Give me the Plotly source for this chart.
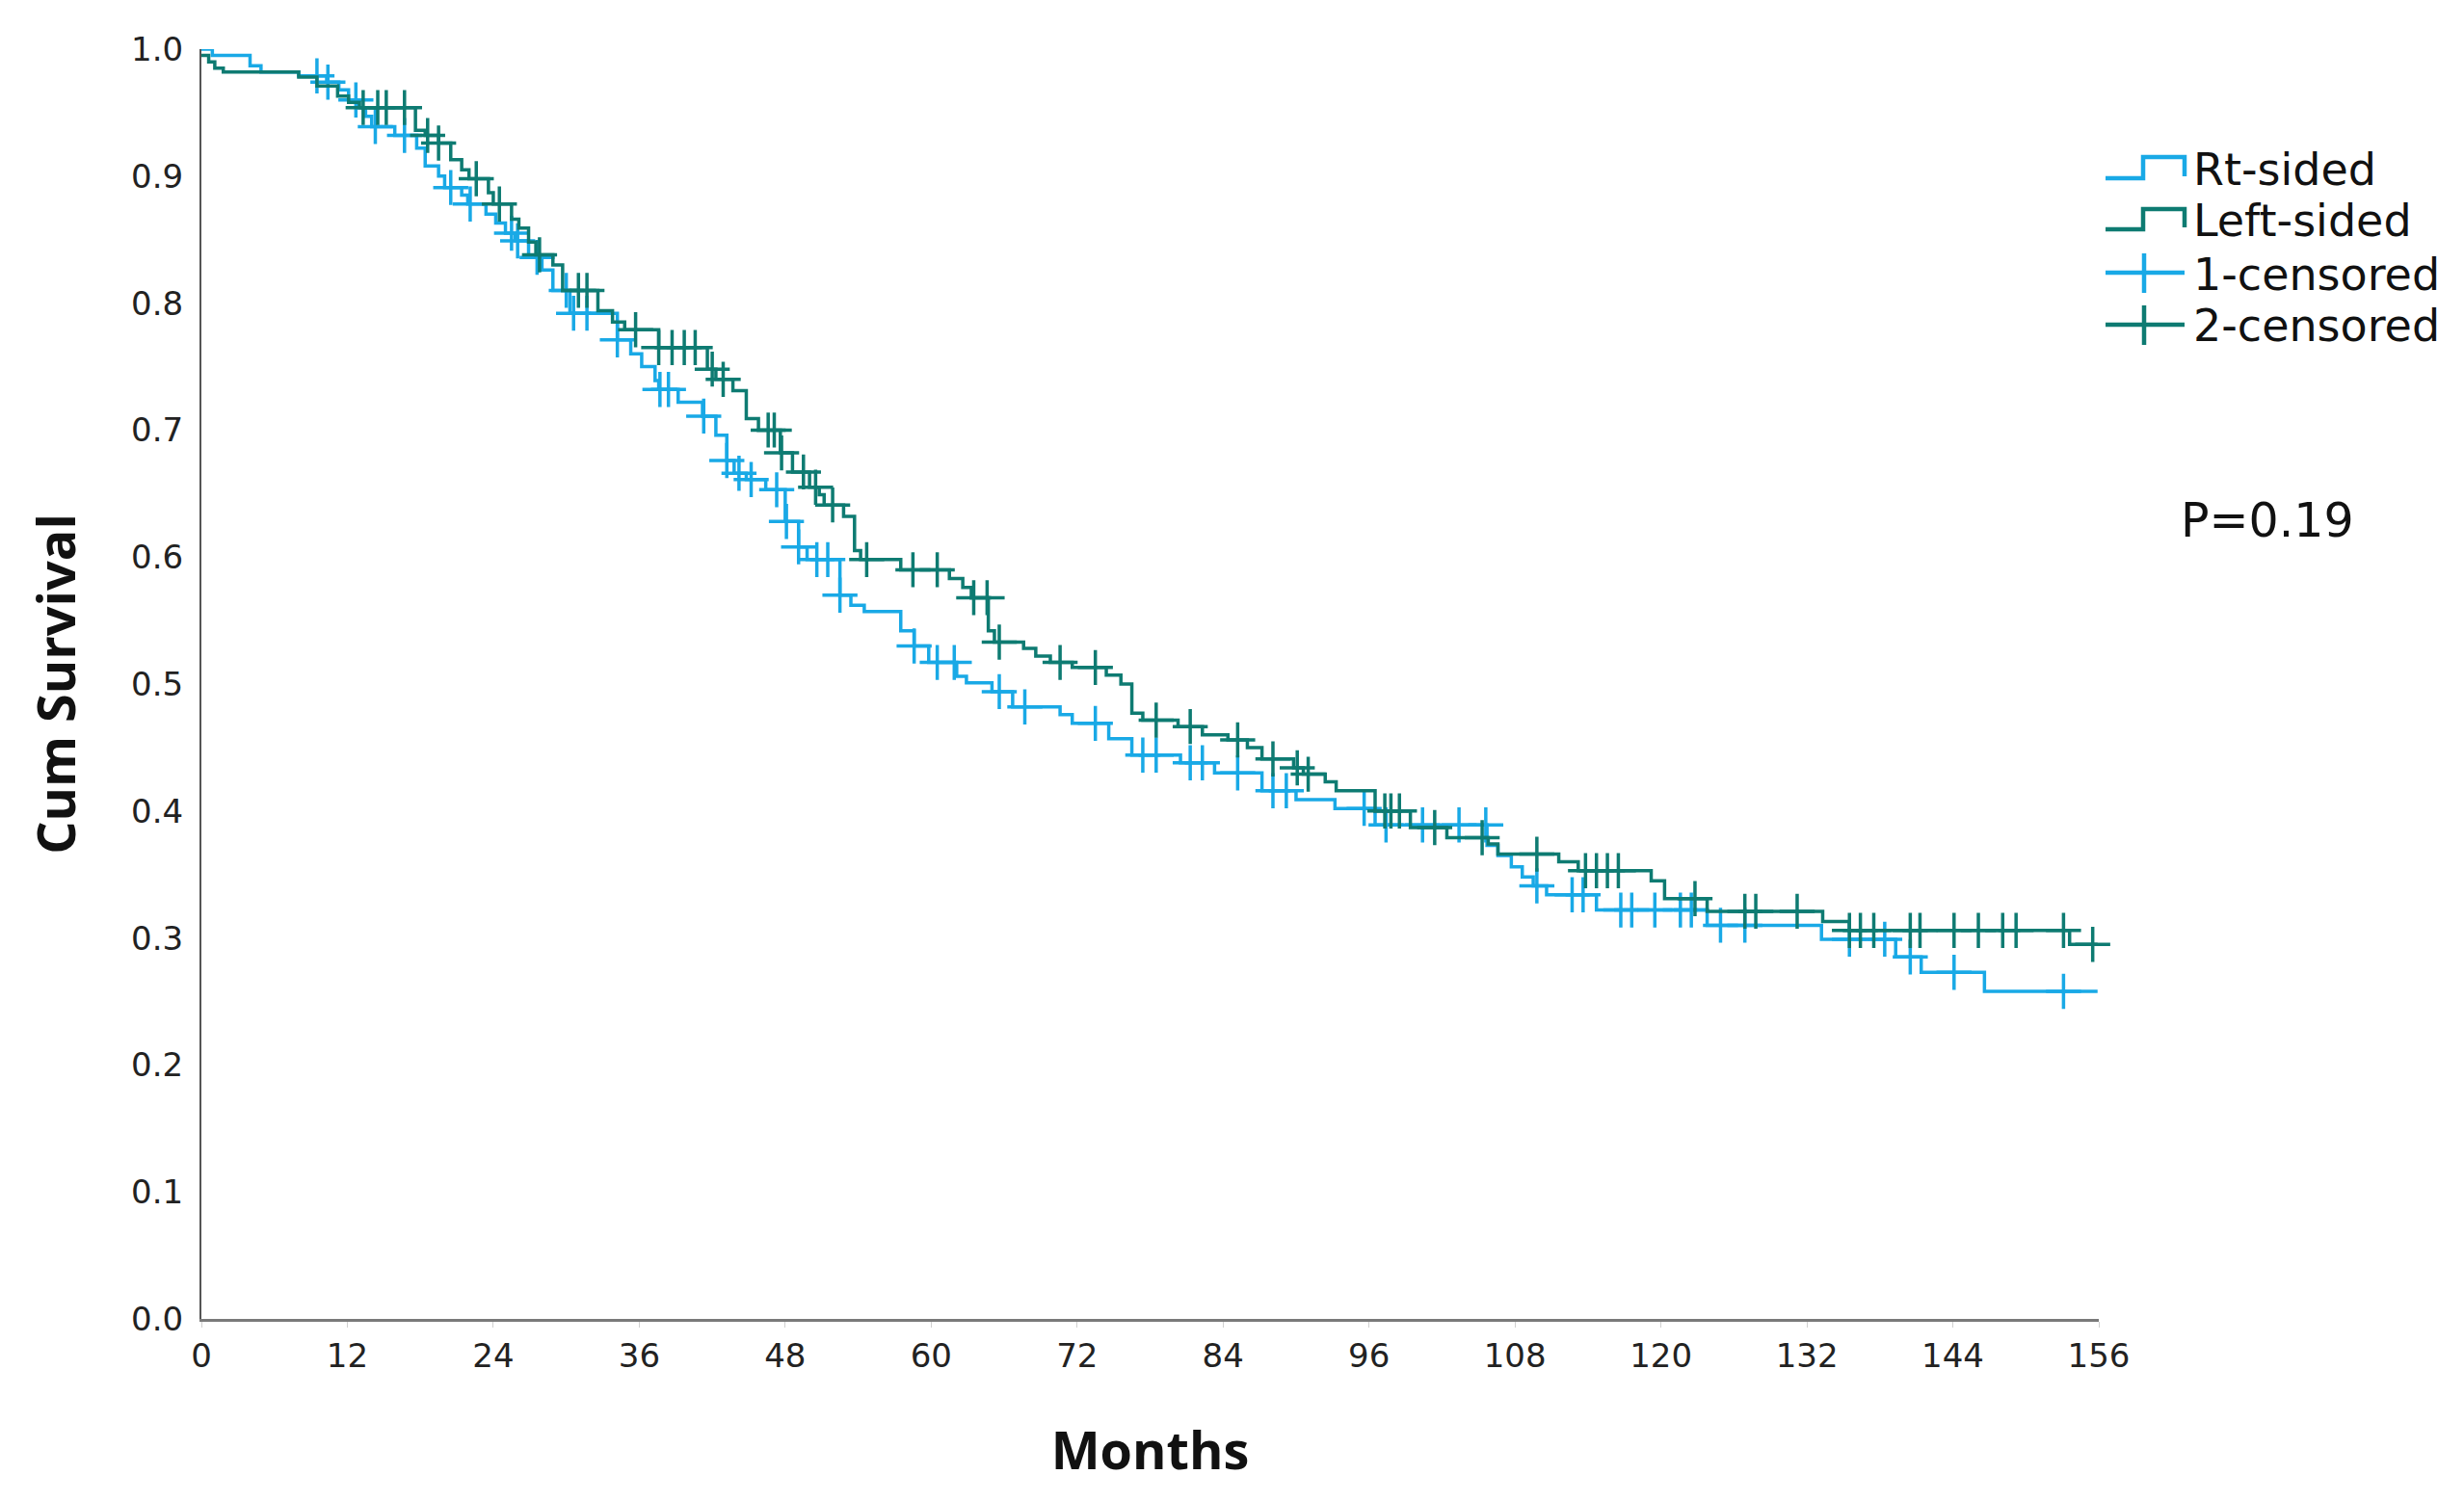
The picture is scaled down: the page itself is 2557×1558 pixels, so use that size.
import numpy as np
import plotly.graph_objects as go

# ---------------- data ----------------
rt_time = [0, 0.9, 4.0, 4.9, 8.0, 10.3, 11.3, 12.1, 12.9, 13.5, 14.0, 15.9, 17.7, 18.4, 19.5,
           20.0, 21.4, 21.9, 23.4, 24.2, 25.0, 25.8, 26.9, 28.0, 28.9, 30.3, 34.2, 35.3, 36.2,
           37.3, 37.6, 39.2, 41.2, 42.3, 43.2, 43.8, 44.8, 46.4, 48.0, 49.1, 49.8, 52.5, 53.4,
           54.5, 57.5, 58.6, 59.8, 62.1, 62.9, 65.0, 66.7, 70.6, 71.6, 74.6, 76.5, 80.5, 83.3,
           87.2, 90.0, 93.2, 96.5, 105.7, 106.6, 107.7, 108.6, 109.5, 110.6, 114.7, 123.8,
           133.2, 139.3, 141.4, 146.6]
rt_surv = [1.000, 0.995, 0.987, 0.982, 0.979, 0.974, 0.968, 0.960, 0.954, 0.947, 0.939, 0.932,
           0.922, 0.908, 0.900, 0.891, 0.885, 0.878, 0.870, 0.863, 0.855, 0.849, 0.836, 0.826,
           0.810, 0.792, 0.771, 0.760, 0.750, 0.739, 0.732, 0.722, 0.711, 0.696, 0.676, 0.666,
           0.661, 0.653, 0.628, 0.608, 0.598, 0.570, 0.562, 0.557, 0.542, 0.530, 0.517, 0.506,
           0.501, 0.494, 0.482, 0.476, 0.469, 0.457, 0.444, 0.438, 0.430, 0.416, 0.409, 0.402,
           0.389, 0.373, 0.365, 0.356, 0.348, 0.341, 0.334, 0.322, 0.310, 0.299, 0.285, 0.273,
           0.258]
rt_end = 155.9
rt_censor = [9.5, 10.4, 12.7, 14.3, 16.7, 20.5, 22.1, 25.5, 26.0, 27.6, 30.0, 30.6, 31.7, 34.2,
             37.7, 38.4, 41.3, 43.2, 44.2, 45.2, 47.3, 48.1, 49.1, 50.6, 51.5, 52.5, 58.6, 60.5,
             61.9, 65.6, 67.7, 73.5, 77.4, 78.5, 81.3, 82.3, 85.2, 88.1, 89.2, 95.6, 97.4,
             100.4, 103.4, 105.6, 109.8, 112.7, 113.6, 116.7, 117.6, 119.5, 121.6, 122.5,
             124.9, 126.9, 135.5, 138.4, 140.5, 144.1, 153.1]

left_time = [0, 0.6, 1.1, 1.8, 8.0, 9.5, 11.2, 12.1, 13.0, 17.6, 18.4, 19.5, 20.5, 21.4, 22.0,
             23.6, 24.0, 25.5, 26.1, 26.9, 27.5, 28.9, 29.7, 32.6, 33.8, 34.8, 37.6, 41.6, 42.3,
             43.7, 44.8, 45.8, 47.6, 48.6, 50.0, 50.8, 51.2, 52.8, 53.7, 54.2, 57.5, 61.5, 62.6,
             63.3, 64.7, 65.2, 67.6, 68.6, 69.8, 71.6, 74.4, 75.6, 76.5, 77.4, 80.3, 82.3, 84.4,
             86.0, 87.2, 89.8, 90.6, 92.4, 93.3, 96.5, 99.4, 102.4, 105.8, 106.6, 111.6, 113.2,
             119.2, 120.3, 123.8, 133.3, 135.5, 153.6]
left_surv = [0.995, 0.990, 0.985, 0.982, 0.978, 0.971, 0.963, 0.958, 0.954, 0.936, 0.932, 0.926,
             0.913, 0.905, 0.898, 0.887, 0.878, 0.866, 0.859, 0.848, 0.838, 0.830, 0.810, 0.794,
             0.785, 0.779, 0.765, 0.748, 0.740, 0.731, 0.709, 0.700, 0.682, 0.667, 0.655, 0.649,
             0.641, 0.632, 0.605, 0.598, 0.590, 0.583, 0.576, 0.568, 0.542, 0.533, 0.528, 0.522,
             0.517, 0.513, 0.507, 0.500, 0.477, 0.4715, 0.4665, 0.460, 0.456, 0.450, 0.441,
             0.434, 0.429, 0.423, 0.416, 0.400, 0.387, 0.379, 0.374, 0.366, 0.360, 0.353,
             0.345, 0.331, 0.321, 0.313, 0.306, 0.295]
left_end = 155.9
left_censor = [13.3, 14.5, 15.2, 16.7, 18.6, 19.5, 22.6, 24.5, 27.8, 31.0, 31.7, 35.7, 37.6,
               38.7, 39.7, 40.6, 42.0, 42.9, 46.6, 47.1, 47.7, 49.5, 50.5, 51.9, 54.7, 58.5,
               60.5, 63.5, 64.6, 65.6, 70.6, 73.5, 78.5, 81.3, 85.2, 88.1, 90.1, 91.0, 97.3,
               97.8, 98.5, 101.4, 105.3, 109.8, 113.8, 114.7, 115.6, 116.5, 122.8, 126.9, 127.8,
               131.2, 135.5, 136.4, 137.5, 140.5, 141.3, 144.1, 146.1, 148.1, 149.2, 153.1, 155.5]

group_names = ["Rt-sided", "Left-sided"]
censor_names = ["1-censored", "2-censored"]
x_ticks = list(range(0, 157, 12))
y_ticks = [round(0.1 * i, 1) for i in range(11)]
p_text = "P=0.19"

BLUE = "#19A9E6"
TEAL = "#0E7B72"

# ---------------- helpers ----------------
def step_xy(t, s, end):
    return list(t) + [end], list(s) + [s[-1]]

def surv_at(t, s, c):
    idx = np.searchsorted(np.array(t), np.array(c), side="right") - 1
    return [s[i] for i in idx]

fig = go.Figure()

for t, s, end, c, col in [(rt_time, rt_surv, rt_end, rt_censor, BLUE),
                          (left_time, left_surv, left_end, left_censor, TEAL)]:
    xs, ys = step_xy(t, s, end)
    fig.add_trace(go.Scatter(x=xs, y=ys, mode="lines", line=dict(color=col, width=3.5, shape="hv"),
                             showlegend=False, cliponaxis=False, hoverinfo="skip"))
    fig.add_trace(go.Scatter(x=c, y=surv_at(t, s, c), mode="markers",
                             marker=dict(symbol="cross-thin", size=26,
                                         line=dict(color=col, width=3.5)),
                             showlegend=False, cliponaxis=False, hoverinfo="skip"))

# ---------------- layout geometry (page pixels) ----------------
W, H = 2541, 1542
L, R, T, B = 201, 2170, 43, 1361

def px(xp):
    return (xp - L) / (R - L)

def py(yp):
    return (B - yp) / (B - T)

shapes = []
# legend glyphs: step lines
for (ylow, yhigh, col) in [(177, 155, BLUE), (230, 209, TEAL)]:
    path = (f"M {px(2177)},{py(ylow)} L {px(2216)},{py(ylow)} L {px(2216)},{py(yhigh)} "
            f"L {px(2259)},{py(yhigh)} L {px(2259)},{py(ylow - 2)}")
    shapes.append(dict(type="path", path=path, xref="paper", yref="paper",
                       line=dict(color=col, width=4.5)))
# legend glyphs: censor crosses
for (yc, col) in [(275, BLUE), (329, TEAL)]:
    shapes.append(dict(type="line", xref="paper", yref="paper", x0=px(2177), x1=px(2259),
                       y0=py(yc), y1=py(yc), line=dict(color=col, width=4.5)))
    shapes.append(dict(type="line", xref="paper", yref="paper", x0=px(2217), x1=px(2217),
                       y0=py(yc - 20), y1=py(yc + 21), line=dict(color=col, width=4.5)))

annotations = []
for name, yc in zip(group_names + censor_names, [168, 221, 277, 330]):
    annotations.append(dict(text=name, xref="paper", yref="paper", x=px(2266), y=py(yc),
                            xanchor="left", yanchor="middle", showarrow=False,
                            font=dict(family="DejaVu Sans", size=46, color="#111111")))
annotations.append(dict(text=p_text, xref="paper", yref="paper", x=px(2253), y=py(532),
                        xanchor="left", yanchor="middle", showarrow=False,
                        font=dict(family="DejaVu Sans", size=49, color="#111111")))

fig.update_layout(
    width=W, height=H,
    margin=dict(l=L, r=W - R, t=T, b=H - B, pad=0),
    paper_bgcolor="white", plot_bgcolor="white",
    shapes=shapes, annotations=annotations,
    xaxis=dict(range=[0, 156], tickvals=x_ticks, ticktext=[str(v) for v in x_ticks],
               showgrid=False, zeroline=False, showline=True, linecolor="#7a7a7a", linewidth=3,
               ticks="outside", ticklen=6, tickcolor="#d0d0d0", tickwidth=1,
               tickfont=dict(family="DejaVu Sans", size=34, color="#222222"),
               title=dict(text="<b>Months</b>", standoff=62,
                          font=dict(family="Open Sans", size=54, color="#111111"))),
    yaxis=dict(range=[0, 1.0], tickvals=y_ticks, ticktext=[f"{v:.1f}" for v in y_ticks],
               showgrid=False, zeroline=False, showline=True, linecolor="#555555", linewidth=2,
               ticks="", ticklabelstandoff=10,
               tickfont=dict(family="DejaVu Sans", size=34, color="#222222"),
               title=dict(text="<b>Cum Survival</b>", standoff=40,
                          font=dict(family="Open Sans", size=54, color="#111111"))),
)

fig.write_html("out.html")
